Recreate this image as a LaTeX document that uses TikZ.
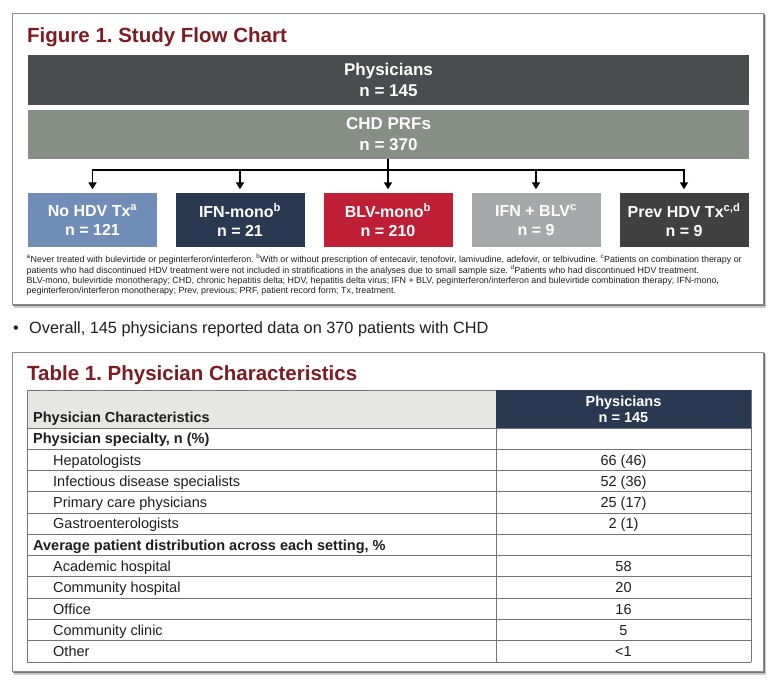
\documentclass[tikz,border=0pt]{standalone}
\usepackage{fontspec}
\setmainfont{Liberation Sans}
\usetikzlibrary{arrows.meta}
\frenchspacing
\definecolor{physgray}{RGB}{75,76,80}
\definecolor{chdgreen}{RGB}{134,142,134}
\definecolor{boxblue}{RGB}{111,141,182}
\definecolor{boxnavy}{RGB}{41,57,82}
\definecolor{boxred}{RGB}{190,31,52}
\definecolor{boxlgray}{RGB}{167,168,170}
\definecolor{boxdgray}{RGB}{64,64,65}
\definecolor{hdrgray}{RGB}{230,231,229}
\definecolor{titlered}{RGB}{126,27,35}
\definecolor{gridgray}{RGB}{115,115,115}
\definecolor{txt}{RGB}{30,30,30}
\begin{document}
\begin{tikzpicture}[x=1pt,y=-1pt,
  flowbar/.style={fill=#1, text=white, minimum width=721pt, minimum height=50pt, inner sep=0pt, align=center, font=\fontsize{17}{21}\selectfont\bfseries},
  grpbox/.style={fill=#1, text=white, minimum width=129pt, minimum height=54pt, inner sep=0pt, align=center, font=\fontsize{16}{19.5}\selectfont\bfseries},
  conn/.style={line width=1.8pt, black},
  arr/.style={conn, -{Triangle[width=8pt,length=7pt]}, shorten >=3.5pt},
  ttl/.style={anchor=base west, inner sep=0pt, text=titlered, font=\fontsize{20.5}{24}\selectfont\bfseries},
  rowcat/.style={anchor=base west, inner sep=0pt, text=txt, font=\fontsize{14.5}{17}\selectfont\bfseries},
  rowitem/.style={anchor=base west, inner sep=0pt, text=txt, font=\fontsize{14.5}{17}\selectfont},
  rowval/.style={anchor=base, inner sep=0pt, text=txt, font=\fontsize{14.5}{17}\selectfont},
  tgrid/.style={draw=gridgray, line width=0.8pt},
  frameshadow/.style={fill=black!55},
  framebox/.style={fill=white, draw=black!45, line width=0.8pt},
]
\useasboundingbox (0,0) rectangle (771,682);
\fill[white] (0,0) rectangle (771,682);

% ---------- Figure frame ----------
\fill[black!20] (14,15) rectangle (766,307.5);
\fill[frameshadow] (13,14) rectangle (764.5,306);
\path[framebox] (12,13) rectangle (763,304);

\node[ttl] (figtitle) at (27,42.3) {Figure 1. Study Flow Chart};

\node[flowbar=physgray] (phys) at (388.5,80) {Physicians\\n = 145};
\node[flowbar=chdgreen, minimum height=49pt] (chd) at (388.5,134.5) {CHD PRFs\\n = 370};

\node[grpbox=boxblue]  (b1) at (92.5,220) {No HDV Tx\textsuperscript{a}\\n = 121};
\node[grpbox=boxnavy]  (b2) at (240,220)  {IFN-mono\textsuperscript{b}\\n = 21};
\node[grpbox=boxred]   (b3) at (388,220)  {BLV-mono\textsuperscript{b}\\n = 210};
\node[grpbox=boxlgray] (b4) at (536,220)  {IFN + BLV\textsuperscript{c}\\n = 9};
\node[grpbox=boxdgray] (b5) at (684,220)  {Prev HDV Tx\textsuperscript{c,d}\\n = 9};

\coordinate (hub) at (388,170);
\draw[conn] (chd.south -| hub) -- (hub);
\draw[arr] (hub) -| (b1.north);
\draw[arr] (hub) -| (b2.north);
\draw[arr] (hub) -- (b3.north);
\draw[arr] (hub) -| (b4.north);
\draw[arr] (hub) -| (b5.north);

\node[anchor=north west, inner sep=0pt, align=left, text=txt, font=\fontsize{8.9}{10}\selectfont] (fn) at (26.5,254)
{\textsuperscript{a}Never treated with bulevirtide or peginterferon/interferon. \textsuperscript{b}With or without prescription of entecavir, tenofovir, lamivudine, adefovir, or telbivudine. \textsuperscript{c}Patients on combination therapy or\\
patients who had discontinued HDV treatment were not included in stratifications in the analyses due to small sample size. \textsuperscript{d}Patients who had discontinued HDV treatment.\\
BLV-mono, bulevirtide monotherapy; CHD, chronic hepatitis delta; HDV, hepatitis delta virus; IFN + BLV, peginterferon/interferon and bulevirtide combination therapy; IFN-mono,\\
peginterferon/interferon monotherapy; Prev, previous; PRF, patient record form; Tx, treatment.};

% ---------- Bullet ----------
\node[anchor=base west, inner sep=0pt, text=txt, font=\fontsize{16.3}{19}\selectfont] (bul) at (13,333.8) {•};
\node[anchor=base west, inner sep=0pt, text=txt, font=\fontsize{16.3}{19}\selectfont] (bultext) at (29,333.8) {Overall, 145 physicians reported data on 370 patients with CHD};

% ---------- Table frame ----------
\fill[black!20] (14,354) rectangle (766,674.5);
\fill[frameshadow] (13,353) rectangle (764.5,673);
\path[framebox] (12,352) rectangle (763,671);

\node[ttl] (tabtitle) at (27,380) {Table 1. Physician Characteristics};

% header cells
\fill[hdrgray] (27,390) rectangle (496,428);
\fill[boxnavy] (496,390) rectangle (751,428);
\node[rowcat] (hdrl) at (33,422.5) {Physician Characteristics};
\node[align=center, inner sep=0pt, text=white, font=\fontsize{14.5}{16}\selectfont\bfseries] (hdrr) at (623.5,409) {Physicians\\n = 145};

% grid
\foreach \k in {0,...,11} {
  \draw[tgrid] (27,{428+21.27*\k}) -- (751,{428+21.27*\k});
}
\draw[tgrid] (27,390) -- (496,390);
\draw[tgrid] (27,390) -- (27,662);
\draw[tgrid] (496,428) -- (496,662);
\draw[tgrid] (751,390) -- (751,662);

% rows
\def\rowy#1{{428+21.27*(#1+0.5)+5.2}}
\node[rowcat]  (r0)  at (33,\rowy{0})  {Physician specialty, n (\%)};
\node[rowitem] (r1)  at (53,\rowy{1})  {Hepatologists};
\node[rowval]  (v1)  at (623.5,\rowy{1}) {66 (46)};
\node[rowitem] (r2)  at (53,\rowy{2})  {Infectious disease specialists};
\node[rowval]  (v2)  at (623.5,\rowy{2}) {52 (36)};
\node[rowitem] (r3)  at (53,\rowy{3})  {Primary care physicians};
\node[rowval]  (v3)  at (623.5,\rowy{3}) {25 (17)};
\node[rowitem] (r4)  at (53,\rowy{4})  {Gastroenterologists};
\node[rowval]  (v4)  at (623.5,\rowy{4}) {2 (1)};
\node[rowcat]  (r5)  at (33,\rowy{5})  {Average patient distribution across each setting, \%};
\node[rowitem] (r6)  at (53,\rowy{6})  {Academic hospital};
\node[rowval]  (v6)  at (623.5,\rowy{6}) {58};
\node[rowitem] (r7)  at (53,\rowy{7})  {Community hospital};
\node[rowval]  (v7)  at (623.5,\rowy{7}) {20};
\node[rowitem] (r8)  at (53,\rowy{8})  {Office};
\node[rowval]  (v8)  at (623.5,\rowy{8}) {16};
\node[rowitem] (r9)  at (53,\rowy{9})  {Community clinic};
\node[rowval]  (v9)  at (623.5,\rowy{9}) {5};
\node[rowitem] (r10) at (53,\rowy{10}) {Other};
\node[rowval]  (v10) at (623.5,\rowy{10}) {<1};
\end{tikzpicture}
\end{document}
